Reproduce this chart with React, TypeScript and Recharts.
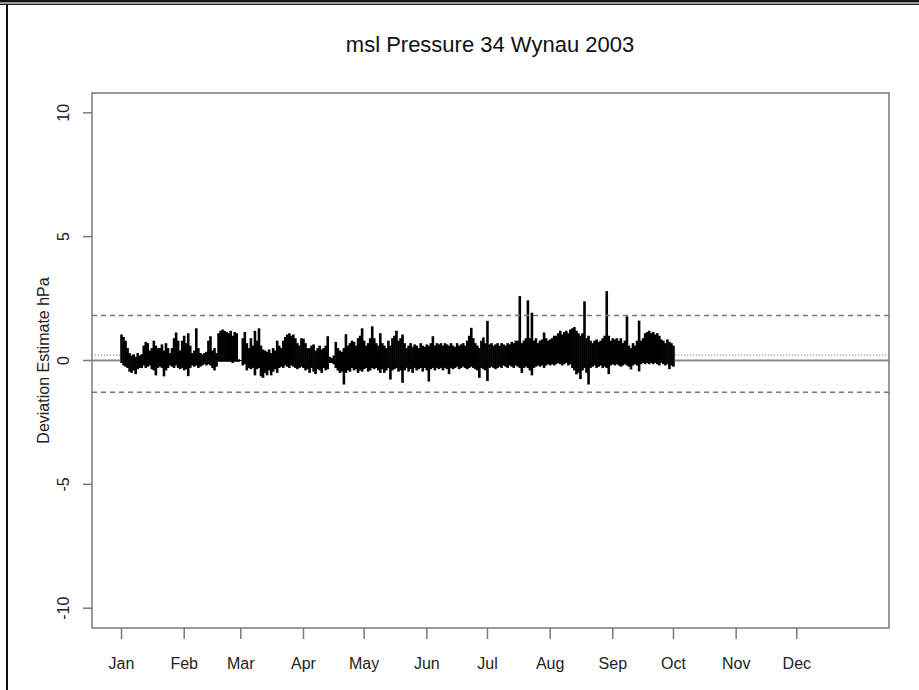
import { ComposedChart, Bar, XAxis, YAxis, ReferenceLine, ReferenceArea, Label } from 'recharts';

// labels
const chartTitle = 'msl Pressure 34 Wynau 2003';
const yAxisTitle = 'Deviation Estimate hPa';
const monthLabels = ['Jan', 'Feb', 'Mar', 'Apr', 'May', 'Jun', 'Jul', 'Aug', 'Sep', 'Oct', 'Nov', 'Dec'];
const monthStartDays = [0, 31, 59, 90, 120, 151, 181, 212, 243, 273, 304, 334];
const yTicks = [-10, -5, 0, 5, 10];

// reference levels (hPa)
const upperLimit = 1.82;
const lowerLimit = -1.28;
const meanLevel = 0.22;

// daily max deviation, day 0 = 1 Jan
const dailyHigh = [
    1.05, 0.95, 0.8, 0.5, 0.3, 0.2, 0.25, 0.15, 0.3, 0.2,
    0.25, 0.6, 0.75, 0.7, 0.4, 0.5, 0.8, 0.6, 0.5, 0.5,
    0.65, 0.4, 0.7, 0.5, 0.3, 0.5, 0.9, 1.13, 0.8, 0.4,
    0.8, 1.0, 0.7, 1.1, 0.6, 0.3, 0.4, 1.3, 0.5, 0.3,
    0.25, 0.3, 0.35, 0.8, 0.98, 0.4, 0.5, 0.3, 1.1, 1.2,
    1.25, 1.2, 1.15, 1.1, 1.2, 1.0, 1.15, 1.1, 0.05, 0.02,
    0.9, 1.15, 0.7, 0.5, 0.9, 0.6, 1.2, 0.8, 1.3, 0.6,
    0.44, 0.4, 0.35, 0.45, 0.3, 0.5, 0.4, 0.8, 0.6, 0.5,
    0.8, 0.95, 1.05, 1.1, 1.0, 1.05, 0.9, 0.7, 0.6, 0.9,
    0.88, 0.7, 0.5, 0.5, 0.6, 0.65, 0.4, 0.5, 0.6, 0.45,
    0.5, 0.6, 0.98, 0.15, 0.1, 0.2, 0.75, 0.5, 0.4, 0.35,
    0.5, 1.06, 0.6, 0.7, 0.8, 0.75, 0.6, 0.9, 1.0, 1.3,
    0.8, 0.6, 0.7, 0.9, 1.38, 0.9, 0.7, 0.6, 1.1, 0.7,
    0.6, 0.5, 0.8, 0.6, 0.9, 1.0, 1.2, 0.8, 0.9, 1.05,
    0.7, 0.5, 0.6, 0.7, 0.55, 0.65, 0.6, 0.5, 0.7, 0.6,
    0.55, 0.65, 0.6, 0.7, 0.98, 0.6, 0.7, 0.65, 0.7, 0.6,
    0.7, 0.65, 0.6, 0.7, 0.6, 0.55, 0.7, 0.6, 0.65, 0.7,
    0.6, 0.8, 1.0, 1.32, 0.9, 0.7, 0.6, 0.5, 0.8, 0.93,
    0.7, 1.6, 0.65, 0.7, 0.6, 0.65, 0.7, 0.6, 0.7, 0.65,
    0.6, 0.7, 0.65, 0.75, 0.7, 0.8, 0.8, 2.6, 0.7, 0.8,
    0.9, 2.43, 0.9, 1.93, 0.8, 0.9, 0.7, 0.8, 0.85, 1.13,
    0.9, 0.8, 0.85, 0.9, 1.0, 1.0, 1.1, 1.2, 1.05, 1.15,
    1.2, 1.1, 1.25, 1.3, 1.35, 1.2, 1.1, 1.0, 1.1, 2.39,
    0.9, 1.0, 0.8, 0.7, 0.8, 0.85, 0.75, 0.8, 0.9, 1.0,
    2.8, 1.0, 0.8, 0.9, 0.85, 0.9, 0.8, 0.9, 0.7, 0.8,
    1.79, 0.6, 0.5, 0.7, 0.6, 0.8, 1.61, 0.8, 0.9, 1.1,
    1.15, 1.2, 1.1, 1.15, 1.05, 1.1, 1.0, 0.85, 0.8, 0.7,
    0.85, 0.75, 0.7, 0.6,
];

// daily min deviation
const dailyLow = [
    -0.1, -0.2, -0.25, -0.3, -0.45, -0.5, -0.4, -0.55, -0.35, -0.3,
    -0.3, -0.2, -0.3, -0.25, -0.2, -0.35, -0.4, -0.6, -0.3, -0.25,
    -0.3, -0.64, -0.4, -0.3, -0.2, -0.25, -0.3, -0.2, -0.3, -0.35,
    -0.3, -0.4, -0.35, -0.63, -0.3, -0.2, -0.25, -0.2, -0.3, -0.25,
    -0.2, -0.15, -0.2, -0.15, -0.2, -0.3, -0.4, -0.25, -0.05, -0.05,
    -0.05, -0.05, -0.05, -0.05, -0.05, -0.1, -0.05, -0.05, -0.05, -0.02,
    -0.2, -0.15, -0.4, -0.3, -0.35, -0.3, -0.6, -0.35, -0.3, -0.64,
    -0.7, -0.5, -0.6, -0.4, -0.6, -0.45, -0.35, -0.5, -0.3, -0.25,
    -0.3, -0.2, -0.25, -0.3, -0.2, -0.25, -0.3, -0.35, -0.3, -0.25,
    -0.3, -0.4, -0.35, -0.5, -0.3, -0.45, -0.55, -0.35, -0.4, -0.5,
    -0.3, -0.4, -0.35, -0.1, -0.1, -0.15, -0.3, -0.4, -0.5, -0.45,
    -0.97, -0.5, -0.4, -0.45, -0.3, -0.4, -0.35, -0.5, -0.4, -0.45,
    -0.35, -0.3, -0.45, -0.4, -0.3, -0.35, -0.3, -0.4, -0.5, -0.35,
    -0.5, -0.4, -0.3, -0.77, -0.4, -0.35, -0.3, -0.45, -0.4, -0.9,
    -0.4, -0.3, -0.45, -0.35, -0.5, -0.3, -0.4, -0.35, -0.3, -0.45,
    -0.3, -0.4, -0.85, -0.35, -0.3, -0.4, -0.3, -0.35, -0.3, -0.4,
    -0.3, -0.35, -0.55, -0.3, -0.35, -0.3, -0.25, -0.35, -0.3, -0.25,
    -0.3, -0.35, -0.3, -0.25, -0.3, -0.35, -0.4, -0.7, -0.3, -0.35,
    -0.4, -0.83, -0.3, -0.25, -0.3, -0.35, -0.3, -0.25, -0.3, -0.2,
    -0.25, -0.3, -0.2, -0.25, -0.3, -0.2, -0.25, -0.3, -0.5, -0.3,
    -0.25, -0.3, -0.4, -0.6, -0.3, -0.25, -0.2, -0.25, -0.2, -0.3,
    -0.2, -0.15, -0.2, -0.15, -0.2, -0.15, -0.1, -0.15, -0.2, -0.15,
    -0.1, -0.2, -0.15, -0.3, -0.4, -0.56, -0.5, -0.75, -0.4, -0.3,
    -0.5, -0.97, -0.3, -0.25, -0.2, -0.3, -0.25, -0.2, -0.3, -0.25,
    -0.3, -0.55, -0.2, -0.15, -0.2, -0.15, -0.2, -0.25, -0.2, -0.15,
    -0.2, -0.25, -0.36, -0.2, -0.15, -0.2, -0.44, -0.15, -0.1, -0.15,
    -0.1, -0.15, -0.1, -0.15, -0.1, -0.15, -0.2, -0.1, -0.15, -0.2,
    -0.15, -0.35, -0.2, -0.25,
];

const rows = dailyHigh.map((hi, i) => ({ day: i, lo: dailyLow[i], hi }));

const X_DOMAIN = [-14.6, 379.6];
const Y_DOMAIN = [-10.8, 10.8];
// the data hides the level lines where it exists, so draw them only outside the observed days
const firstDay = 0;
const lastDay = dailyHigh.length - 1;
const levelSpans = [[X_DOMAIN[0], firstDay - 0.7], [lastDay + 0.7, X_DOMAIN[1]]];

const FONT = '"Liberation Sans", Arial, Helvetica, sans-serif';
const AXIS_GREY = '#7a7a7a';

const MonthTick = ({ x, y, payload }: any) => (
    <text x={x} y={y + 24} textAnchor="middle" dominantBaseline="central"
        fontFamily={FONT} fontSize={16} fill="#222">
        {monthLabels[monthStartDays.indexOf(payload.value)]}
    </text>
)

const ValueTick = ({ x, y, payload }: any) => {
    const cx = x - 19.5
    return (
        <text x={cx} y={y} transform={`rotate(-90, ${cx}, ${y})`} textAnchor="middle"
            dominantBaseline="central" fontFamily={FONT} fontSize={16} fill="#222">
            {payload.value}
        </text>
    )
}

const YTitle = ({ viewBox }: any) => {
    const cx = viewBox.x + 43
    const cy = viewBox.y + viewBox.height / 2
    return (
        <text x={cx} y={cy} transform={`rotate(-90, ${cx}, ${cy})`} textAnchor="middle"
            dominantBaseline="central" fontFamily={FONT} fontSize={16} fill="#222">
            {yAxisTitle}
        </text>
    )
}

// widen each daily stroke a little so neighbouring days merge into one dark band
const DayStroke = ({ x, y, width, height }: any) => {
    const cx = x + width / 2
    const top = height < 0 ? y + height : y
    return <rect x={cx - 1.3} y={top} width={2.6} height={Math.abs(height)} fill="#000" />
}

export default function App() {
    return (
        <div style={{ position: 'absolute', left: 0, top: 0, width: 919, height: 690, background: '#fff', overflow: 'hidden' }}>
            {/* screenshot frame */}
            <div style={{ position: 'absolute', left: 0, top: 0, width: 919, height: 2, background: '#111' }} />
            <div style={{ position: 'absolute', left: 0, top: 2, width: 919, height: 2, background: '#9a9a9a' }} />
            <div style={{ position: 'absolute', left: 0, top: 4, width: 919, height: 1, background: '#222' }} />
            <div style={{ position: 'absolute', left: 6, top: 4, width: 2, height: 686, background: '#111' }} />

            <div style={{
                position: 'absolute', left: 490, top: 45, transform: 'translate(-50%, -50%)',
                whiteSpace: 'nowrap', fontFamily: FONT, fontSize: 22, lineHeight: 1, color: '#111'
            }}>
                {chartTitle}
            </div>

            <ComposedChart width={919} height={690} data={rows}
                margin={{ top: 93, right: 30, bottom: 0, left: 0 }}>
                <XAxis dataKey="day" type="number" domain={X_DOMAIN} allowDataOverflow
                    ticks={monthStartDays} interval={0} height={62} tickSize={11} tickMargin={0}
                    axisLine={false} tickLine={{ stroke: AXIS_GREY, strokeWidth: 1.5 }}
                    tick={<MonthTick />} />
                <YAxis type="number" domain={Y_DOMAIN} allowDataOverflow ticks={yTicks}
                    width={92} tickSize={9} tickMargin={0} axisLine={false}
                    tickLine={{ stroke: AXIS_GREY, strokeWidth: 1.5 }} tick={<ValueTick />}>
                    <Label content={<YTitle />} />
                </YAxis>

                <ReferenceArea x1={X_DOMAIN[0]} x2={X_DOMAIN[1]} y1={Y_DOMAIN[0]} y2={Y_DOMAIN[1]} fill="none"
                    stroke={AXIS_GREY} strokeWidth={1.5} fillOpacity={0} ifOverflow="visible" />

                <ReferenceLine y={upperLimit} stroke="#777" strokeWidth={1.5} strokeDasharray="5 4" />
                <ReferenceLine y={lowerLimit} stroke="#777" strokeWidth={1.5} strokeDasharray="5 4" />
                {levelSpans.map(([a, b], i) => (
                    <ReferenceLine key={`mean-${i}`} segment={[{ x: a, y: meanLevel }, { x: b, y: meanLevel }]}
                        stroke="#888" strokeWidth={1.2} strokeDasharray="1 2" />
                ))}
                {levelSpans.map(([a, b], i) => (
                    <ReferenceLine key={`zero-${i}`} segment={[{ x: a, y: 0 }, { x: b, y: 0 }]}
                        stroke="#888" strokeWidth={2} />
                ))}

                <Bar dataKey={(d: any) => [d.lo, d.hi]} fill="#000" barSize={2} shape={<DayStroke />}
                    isAnimationActive={false} />
            </ComposedChart>
        </div>
    )
}
